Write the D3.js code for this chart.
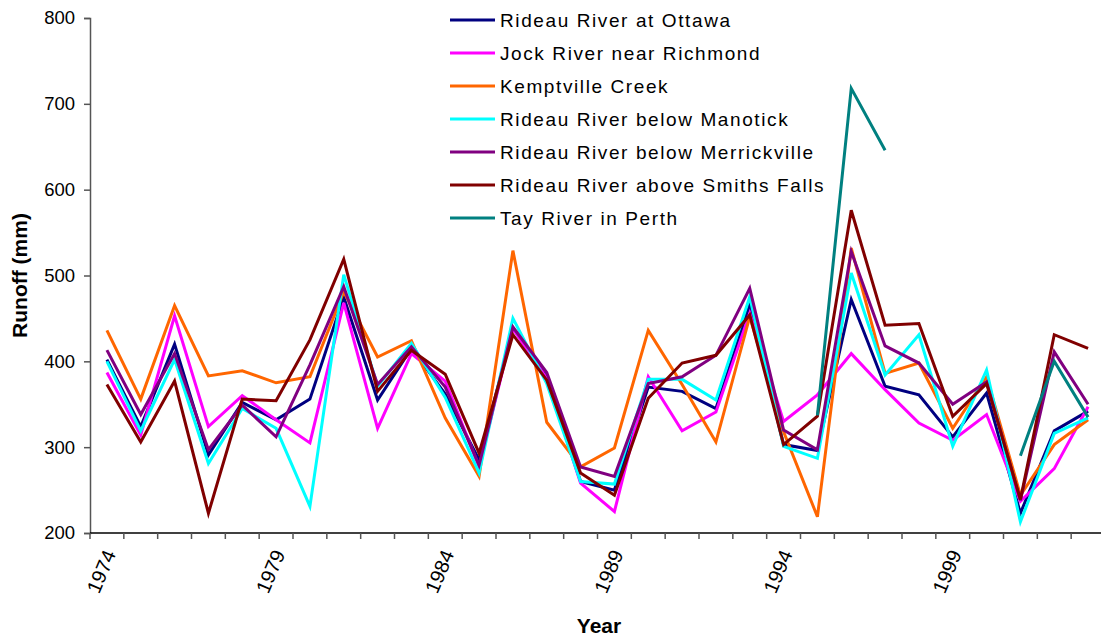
<!DOCTYPE html>
<html>
<head>
<meta charset="utf-8">
<title>runoff</title>
<script src="https://cdn.jsdelivr.net/npm/d3@7"></script>
<style>
    body{
        margin:0;
        background:#fff;
        font-family:"Liberation Sans", Arial, sans-serif;
    }
</style>
</head>
<body>
<div id="chart"></div>
<script>
var years = d3.range(1974, 2004)

var seriesNames = ["Rideau River at Ottawa", "Jock River near Richmond", "Kemptville Creek",
    "Rideau River below Manotick", "Rideau River below Merrickville",
    "Rideau River above Smiths Falls", "Tay River in Perth"]

var ottawa = [402,324,420,291,352,332,356,475,355,415,362,285,439,381,260,250,370,365,345,466,303,296,472,371,361,312,363,223,319,342]
var jock = [387,314,453,324,360,332,305,468,322,409,377,277,438,380,258,225,382,319,341,456,330,361,409,367,328,308,338,237,275,347]
var kemptville = [436,356,465,383,389,375,382,481,405,424,334,266,529,329,277,299,436,373,306,452,318,219,532,386,398,322,382,244,303,332]
var manotick = [400,319,402,281,345,322,231,501,371,421,358,270,450,374,260,257,379,379,355,475,301,287,503,384,431,301,390,213,316,334]
var merrickville = [413,338,409,297,349,312,396,487,373,417,370,279,440,387,277,266,374,382,407,485,320,297,528,418,398,350,376,238,411,350]
var smithsFalls = [373,306,377,223,356,354,425,519,365,413,385,293,431,378,270,244,357,398,407,454,303,336,576,442,444,336,374,239,431,415]
var tay = [null,null,null,null,null,null,null,null,null,null,null,null,null,null,null,null,null,null,null,null,null,337,718,646,null,null,null,290,400,335]

var seriesValues = [ottawa, jock, kemptville, manotick, merrickville, smithsFalls, tay]
var colors = ["#000080", "#ff00ff", "#ff6600", "#00ffff", "#800080", "#800000", "#008080"]

var yTicks = [200, 300, 400, 500, 600, 700, 800]
var labelYears = [1974, 1979, 1984, 1989, 1994, 1999]

var w = 1101
var h = 638

var svg = d3.select("#chart").append("svg")
    .attr("width", w)
    .attr("height", h)

var xScale = d3.scaleBand().domain(years).range([90, 1105]).padding(0)
var yScale = d3.scaleLinear().domain([200, 800]).range([533, 18])

// y axis
var yAxis = d3.axisLeft(yScale).tickValues(yTicks).tickSize(6).tickPadding(9)
var gy = svg.append("g")
    .attr("transform", "translate(90,0)")
    .call(yAxis)
gy.select(".domain").attr("stroke", "#555").attr("stroke-width", 1.5)
gy.selectAll(".tick line").attr("stroke", "#555").attr("stroke-width", 1.5)
gy.selectAll(".tick text")
    .style("font-family", "Liberation Sans, Arial, sans-serif")
    .style("font-size", "18.5px")
    .attr("fill", "#000")

// x axis: ticks on band boundaries like the category axis
var gx = svg.append("g")
gx.append("line")
    .attr("x1", 90).attr("x2", 1105)
    .attr("y1", yScale(200)).attr("y2", yScale(200))
    .attr("stroke", "#000").attr("stroke-width", 1.5)
gx.selectAll(".xtick")
    .data(d3.range(years.length + 1))
    .enter()
    .append("line")
    .attr("class", "xtick")
    .attr("x1", function(i){ return 90 + i * xScale.step() })
    .attr("x2", function(i){ return 90 + i * xScale.step() })
    .attr("y1", yScale(200))
    .attr("y2", yScale(200) + 6)
    .attr("stroke", "#555").attr("stroke-width", 1.5)
gx.selectAll(".xlabel")
    .data(labelYears)
    .enter()
    .append("text")
    .attr("class", "xlabel")
    .attr("transform", function(d){
        return "translate(" + (xScale(d) + xScale.bandwidth() / 2 + 3) + "," + (yScale(200) + 18) + ") rotate(-67)"
    })
    .attr("text-anchor", "end")
    .attr("dy", "0.35em")
    .style("font-size", "20px")
    .text(function(d){ return d })

// axis titles
svg.append("text")
    .text("Year")
    .attr("x", 599)
    .attr("y", 633)
    .attr("text-anchor", "middle")
    .style("font-weight", "bold")
    .style("font-size", "21px")

svg.append("text")
    .text("Runoff (mm)")
    .attr("transform", "translate(27," + ((yScale(200) + yScale(800)) / 2) + ") rotate(-90)")
    .attr("text-anchor", "middle")
    .style("font-weight", "bold")
    .style("font-size", "21px")

// lines
var line = d3.line()
    .defined(function(d){ return d.v != null })
    .x(function(d){ return xScale(d.year) + xScale.bandwidth() / 2 })
    .y(function(d){ return yScale(d.v) })

seriesValues.forEach(function(vals, k){
    var pts = years.map(function(y, i){ return {year: y, v: vals[i]} })
    svg.append("path")
        .datum(pts)
        .attr("d", line)
        .attr("fill", "none")
        .attr("stroke", colors[k])
        .attr("stroke-width", 3)
})

// legend
var legend = svg.append("g")
seriesNames.forEach(function(name, k){
    var ly = 20 + k * 33
    legend.append("line")
        .attr("x1", 450).attr("x2", 495)
        .attr("y1", ly).attr("y2", ly)
        .attr("stroke", colors[k])
        .attr("stroke-width", 3)
    legend.append("text")
        .attr("x", 500)
        .attr("y", ly)
        .attr("dy", "0.35em")
        .style("font-size", "19px")
        .style("letter-spacing", "1.6px")
        .text(name)
})
</script>
</body>
</html>
